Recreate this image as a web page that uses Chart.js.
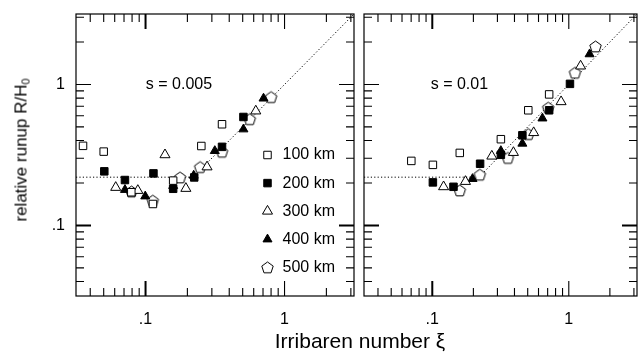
<!DOCTYPE html>
<html>
<head>
<meta charset="utf-8">
<script src="https://cdn.jsdelivr.net/npm/chart.js@4.4.1/dist/chart.umd.min.js"></script>
<style>
  body { margin: 0; background: #fff; width: 644px; height: 357px; position: relative; overflow: hidden;
         font-family: "Liberation Sans", Arial, sans-serif; color: #000; }
  #left { position: absolute; left: 0; top: 0; }
  #right { position: absolute; left: 357px; top: 0; }
  .xtitle { position: absolute; left: 0; width: 720px; top: 330px; text-align: center; font-size: 21px; line-height: 21px; }
  .ytitle { position: absolute; left: 21px; top: 150px; transform: translate(-50%, -50%) rotate(-90deg);
            white-space: nowrap; font-size: 17px; line-height: 17px; }
  .ytitle sub { font-size: 11px; vertical-align: -3px; line-height: 0; }
</style>
</head>
<body>
<canvas id="left" width="361" height="357"></canvas>
<canvas id="right" width="287" height="357"></canvas>
<div class="xtitle">Irribaren number ξ</div>
<div class="ytitle">relative runup R/H<sub>0</sub></div>
<script>
// legend names
const seriesNames = ['100 km', '200 km', '300 km', '400 km', '500 km'];

// s = 0.005 panel, [xi, R/H0]
const s005_100 = [[0.0355, 0.367], [0.050, 0.334], [0.079, 0.172], [0.113, 0.142], [0.158, 0.208], [0.252, 0.366], [0.355, 0.522]];
const s005_200 = [[0.0505, 0.242], [0.0711, 0.210], [0.114, 0.234], [0.158, 0.182], [0.224, 0.219], [0.355, 0.361], [0.506, 0.588]];
const s005_300 = [[0.061, 0.186], [0.088, 0.177], [0.138, 0.317], [0.195, 0.183], [0.277, 0.260], [0.621, 0.648]];
const s005_400 = [[0.0711, 0.179], [0.0995, 0.161], [0.158, 0.191], [0.222, 0.226], [0.315, 0.338], [0.506, 0.481], [0.706, 0.796]];
const s005_500 = [[0.0793, 0.174], [0.1127, 0.150], [0.177, 0.219], [0.247, 0.259], [0.355, 0.333], [0.562, 0.567], [0.800, 0.813]];

// s = 0.01 panel
const s01_100 = [[0.0702, 0.287], [0.101, 0.269], [0.159, 0.327], [0.318, 0.409], [0.505, 0.656], [0.718, 0.850]];
const s01_200 = [[0.101, 0.202], [0.143, 0.188], [0.224, 0.274], [0.318, 0.317], [0.457, 0.436], [0.718, 0.656], [1.02, 1.01]];
const s01_300 = [[0.121, 0.188], [0.175, 0.205], [0.273, 0.310], [0.393, 0.329], [0.553, 0.455], [0.878, 0.754], [1.22, 1.35]];
const s01_400 = [[0.197, 0.214], [0.318, 0.338], [0.457, 0.381], [0.641, 0.575], [1.42, 1.64]];
const s01_500 = [[0.159, 0.177], [0.223, 0.229], [0.358, 0.301], [0.505, 0.444], [0.707, 0.684], [1.11, 1.21], [1.57, 1.86]];

// dotted reference line R/H0 = max(0.22, xi)
const refX = [0.0316, 0.22, 3.16];
const refY = [0.22, 0.22, 3.16];

// axis
const axisMin = 0.0316, axisMax = 3.16;
const tickValues = [0.1, 1];
const tickLabels = ['.1', '1'];

const panelLabels = ['s = 0.005', 's = 0.01'];

Chart.defaults.font.family = '"Liberation Sans", Arial, sans-serif';
Chart.defaults.color = '#000';

function pentagon() {
  const c = document.createElement('canvas');
  c.width = 15; c.height = 15;
  const g = c.getContext('2d');
  g.beginPath();
  for (let k = 0; k < 5; k++) {
    const a = -Math.PI / 2 + k * 2 * Math.PI / 5;
    g.lineTo(7.5 + 6 * Math.cos(a), 8 + 6 * Math.sin(a));
  }
  g.closePath();
  g.fillStyle = '#fff'; g.fill();
  g.lineWidth = 1; g.strokeStyle = '#000'; g.stroke();
  return c;
}
const penta = pentagon();

const markerStyles = [
  { pointStyle: 'rect', pointRadius: 5.3, backgroundColor: '#fff' },
  { pointStyle: 'rect', pointRadius: 5.3, backgroundColor: '#000' },
  { pointStyle: 'triangle', pointRadius: 5.8, backgroundColor: '#fff' },
  { pointStyle: 'triangle', pointRadius: 5.2, backgroundColor: '#000' },
  { pointStyle: penta, pointRadius: 6, backgroundColor: '#fff' }
];

const toXY = arr => arr.map(p => ({ x: p[0], y: p[1] }));

function buildDatasets(series) {
  const sets = series.map((s, i) => Object.assign({
    label: seriesNames[i],
    data: toXY(s),
    borderColor: '#000',
    borderWidth: 1,
    pointBorderWidth: 1,
    order: 1
  }, markerStyles[i]));
  sets.push({
    label: 'ref',
    data: refX.map((x, i) => ({ x: x, y: refY[i] })),
    showLine: true,
    borderColor: '#000',
    borderWidth: 1,
    borderDash: [1.2, 2.2],
    pointRadius: 0,
    order: 10
  });
  return sets;
}

// minor/major tick positions of a log axis
function logTicks() {
  const out = [];
  for (let e = -2; e <= 0; e++) {
    for (let m = 1; m <= 9; m++) {
      const v = m * Math.pow(10, e);
      if (v > axisMin && v < axisMax) out.push(v);
    }
  }
  return out;
}

const framePlugin = {
  id: 'frame',
  afterDatasetsDraw(chart, args, opts) {
    const ctx = chart.ctx;
    const a = chart.chartArea;
    const xs = chart.scales.x, ys = chart.scales.y;
    ctx.save();
    ctx.strokeStyle = '#000';
    ctx.lineWidth = 1.2;
    ctx.strokeRect(a.left, a.top, a.right - a.left, a.bottom - a.top);

    logTicks().forEach(v => {
      const major = Math.abs(Math.log10(v) - Math.round(Math.log10(v))) < 1e-9;
      const len = major ? 15 : 8;
      ctx.lineWidth = Math.abs(v - 0.1) < 1e-9 ? 2 : 1.1;
      const px = xs.getPixelForValue(v);
      const py = ys.getPixelForValue(v);
      ctx.beginPath();
      ctx.moveTo(px, a.bottom); ctx.lineTo(px, a.bottom - len);
      ctx.moveTo(px, a.top); ctx.lineTo(px, a.top + len);
      ctx.moveTo(a.left, py); ctx.lineTo(a.left + len, py);
      ctx.moveTo(a.right, py); ctx.lineTo(a.right - len, py);
      ctx.stroke();
    });

    // panel label
    ctx.fillStyle = '#000';
    ctx.font = '16px "Liberation Sans", Arial, sans-serif';
    ctx.textAlign = 'center';
    ctx.textBaseline = 'middle';
    ctx.fillText(opts.label, xs.getPixelForValue(opts.labelX), ys.getPixelForValue(1));

    if (opts.legend) {
      seriesNames.forEach((name, i) => {
        const y = 155 + i * 28.1;
        const x = a.right - 86.5;
        const st = markerStyles[i];
        ctx.fillStyle = st.backgroundColor;
        ctx.strokeStyle = '#000';
        ctx.lineWidth = 1;
        Chart.helpers.drawPoint(ctx, { pointStyle: st.pointStyle, radius: st.pointRadius, borderWidth: 1, rotation: 0 }, x, y);
        ctx.fillStyle = '#000';
        ctx.textAlign = 'left';
        ctx.fillText(name, a.right - 71.5, y);
      });
    }
    ctx.restore();
  }
};

function makeChart(id, series, showY, padding, label, labelX, legend) {
  return new Chart(document.getElementById(id), {
    type: 'scatter',
    data: { datasets: buildDatasets(series) },
    options: {
      responsive: false,
      animation: false,
      layout: { padding: padding },
      plugins: {
        legend: { display: false },
        tooltip: { enabled: false },
        frame: { label: label, labelX: labelX, legend: legend }
      },
      scales: {
        x: {
          type: 'logarithmic',
          min: axisMin,
          max: axisMax,
          grid: { display: false, drawTicks: false },
          border: { display: false },
          afterBuildTicks: s => { s.ticks = tickValues.map(v => ({ value: v })); },
          afterFit: s => { s.height = 61; s.paddingLeft = 0; s.paddingRight = 0; },
          ticks: {
            padding: 14,
            font: { size: 16 },
            callback: v => tickLabels[tickValues.indexOf(v)]
          }
        },
        y: {
          type: 'logarithmic',
          display: showY,
          min: axisMin,
          max: axisMax,
          grid: { display: false, drawTicks: false },
          border: { display: false },
          afterBuildTicks: s => { s.ticks = tickValues.map(v => ({ value: v })); },
          afterFit: s => { s.width = showY ? 76 : 0; s.paddingTop = 0; s.paddingBottom = 0; },
          ticks: {
            padding: 11,
            font: { size: 16 },
            callback: v => tickLabels[tickValues.indexOf(v)]
          }
        }
      }
    },
    plugins: [framePlugin]
  });
}

makeChart('left', [s005_100, s005_200, s005_300, s005_400, s005_500], true,
  { top: 14, right: 1.5, bottom: 0, left: 0 }, panelLabels[0], 0.174, true);
makeChart('right', [s01_100, s01_200, s01_300, s01_400, s01_500], false,
  { top: 14, right: 2.3, bottom: 0, left: 2.5 }, panelLabels[1], 0.158, false);
</script>
</body>
</html>
